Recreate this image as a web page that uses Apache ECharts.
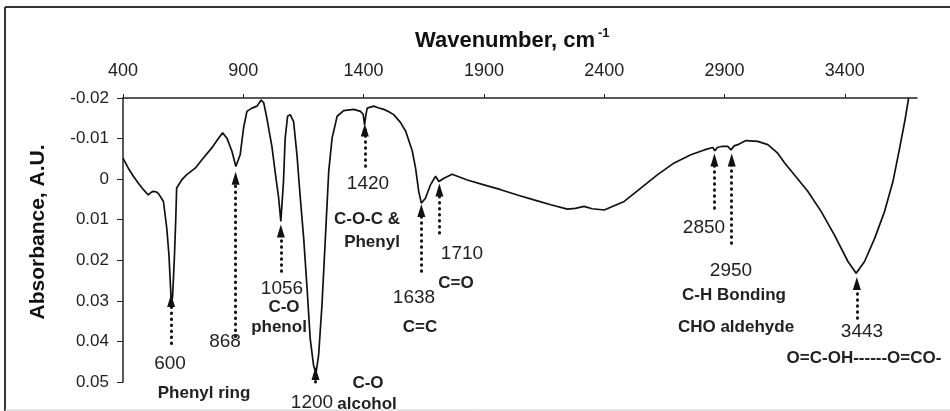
<!DOCTYPE html>
<html>
<head>
<meta charset="utf-8">
<script src="https://cdn.jsdelivr.net/npm/echarts@6/dist/echarts.min.js"></script>
<style>html,body{margin:0;padding:0;background:#fff;}#c{width:950px;height:411px;}</style>
</head>
<body>
<div id="c"></div>
<script>
const wavenumber = [400,422,443,464,485,505,516,526,537,547,568,582,591,597,601,606,610,614,619,623,644,665,700,734,769,797,814,832,853,869,887,901,915,936,957,974,985,998,1019,1033,1047,1056,1067,1074,1084,1095,1109,1123,1137,1151,1165,1178,1192,1202,1213,1227,1241,1255,1269,1290,1317,1359,1387,1398,1404,1410,1415,1442,1460,1484,1505,1525,1553,1575,1602,1616,1629,1640,1657,1678,1699,1713,1734,1768,1831,1900,1970,2039,2108,2178,2247,2280,2316,2350,2400,2483,2552,2622,2691,2760,2816,2851,2860,2870,2892,2913,2927,2940,2955,2989,3038,3080,3121,3150,3190,3246,3302,3357,3413,3447,3482,3524,3565,3600,3628,3649,3663,3665];
const absorbance = [-0.0052,-0.0027,-0.0007,0.0010,0.0026,0.0039,0.0033,0.0030,0.0031,0.0035,0.0055,0.0121,0.0187,0.0260,0.0306,0.0290,0.0240,0.0187,0.0104,0.0022,0.0002,-0.0011,-0.0027,-0.0052,-0.0077,-0.0101,-0.0114,-0.0101,-0.0068,-0.0031,-0.0060,-0.0126,-0.0167,-0.0175,-0.0180,-0.0195,-0.0188,-0.0150,-0.0080,-0.0015,0.0047,0.0104,0.0006,-0.0101,-0.0155,-0.0159,-0.0142,-0.0060,0.0047,0.0146,0.0269,0.0393,0.0459,0.0479,0.0434,0.0310,0.0146,-0.0019,-0.0101,-0.0155,-0.0169,-0.0172,-0.0167,-0.0160,-0.0134,-0.0160,-0.0175,-0.0180,-0.0176,-0.0172,-0.0166,-0.0159,-0.0140,-0.0118,-0.0070,-0.0027,0.0030,0.0059,0.0047,0.0014,-0.0007,0.0006,-0.0002,-0.0012,0.0002,0.0014,0.0026,0.0039,0.0051,0.0063,0.0074,0.0072,0.0067,0.0073,0.0076,0.0055,0.0022,-0.0011,-0.0040,-0.0060,-0.0072,-0.0078,-0.0070,-0.0078,-0.0081,-0.0081,-0.0072,-0.0082,-0.0085,-0.0095,-0.0093,-0.0085,-0.0064,-0.0040,-0.0011,0.0030,0.0080,0.0138,0.0203,0.0232,0.0203,0.0146,0.0080,0.0006,-0.0077,-0.0142,-0.0192,-0.0200];
const xTicks = [400,900,1400,1900,2400,2900,3400];
const yTicks = [-0.02,-0.01,0,0.01,0.02,0.03,0.04,0.05];
const arrowX = [600,868,1056,1200,1405,1640,1715,2858,2930,3450];
const arrowTip = [0.0299,-0.0002,0.0128,0.0479,-0.0121,0.0077,0.0027,-0.0047,-0.0047,0.0257];
const arrowTail = [0.0405,0.0388,0.0227,0.0500,-0.0032,0.0227,0.0133,0.0072,0.0158,0.0343];
const numLabels = ['600','868','1056','1200','1420','1638','1710','2850','2950','3443'];
const groupLabels = ['Phenyl ring','C-O','phenol','C-O','alcohol','C-O-C &','Phenyl','C=C','C=O','C-H Bonding','CHO aldehyde','O=C-OH------O=CO-'];

const chart = echarts.init(document.getElementById('c'));
const F = 'Liberation Sans, Arial, sans-serif';
function num(i, x, y){ return {type:'text', x:x, y:y, z:10, style:{text:numLabels[i], font:'19px '+F, fill:'#222', align:'center', verticalAlign:'middle'}}; }
function bold(i, x, y){ return {type:'text', x:x, y:y, z:10, style:{text:groupLabels[i], font:'bold 17px '+F, fill:'#222', align:'center', verticalAlign:'middle'}}; }

chart.setOption({
  animation:false,
  backgroundColor:'#fff',
  grid:{left:123, right:33, top:98, bottom:29},
  xAxis:{type:'value', position:'top', min:400, max:3700, interval:500,
    axisLine:{onZero:false, lineStyle:{color:'#222', width:1.5}},
    axisTick:{show:true, length:4, lineStyle:{color:'#222'}, customValues:xTicks},
    axisLabel:{customValues:xTicks, color:'#222', fontSize:18, fontFamily:F, margin:18, formatter:v=>String(v)},
    splitLine:{show:false}},
  yAxis:{type:'value', inverse:true, min:-0.02, max:0.05, interval:0.01,
    axisLine:{show:true, onZero:false, lineStyle:{color:'#222', width:1.5}},
    axisTick:{show:true, length:6, lineStyle:{color:'#222'}},
    axisLabel:{color:'#222', fontSize:17, fontFamily:F, margin:14, formatter:v=>String(+v.toFixed(2))},
    splitLine:{show:false}},
  series:[{
    type:'line', showSymbol:false, silent:true,
    data: wavenumber.map((w,i)=>[w, absorbance[i]]),
    lineStyle:{color:'#111', width:1.7},
    markLine:{silent:true, symbol:['none','triangle'], symbolSize:[8,13],
      label:{show:false},
      lineStyle:{color:'#111', width:3, type:[0.5,5.5], cap:'round'},
      emphasis:{disabled:true},
      data: arrowX.map((x,i)=>[{coord:[x, arrowTail[i]]},{coord:[x, arrowTip[i]]}])
    }
  }],
  graphic:[
    {type:'line', shape:{x1:5,y1:7,x2:950,y2:7}, style:{stroke:'#333', lineWidth:2}},
    {type:'line', shape:{x1:5,y1:7,x2:5,y2:411}, style:{stroke:'#333', lineWidth:2}},
    {type:'line', shape:{x1:5,y1:410,x2:950,y2:410}, style:{stroke:'#ccc', lineWidth:1}},
    {type:'text', x:415, y:41, style:{text:'Wavenumber, cm', font:'bold 22px '+F, fill:'#111', align:'left', verticalAlign:'middle'}},
    {type:'text', x:598, y:33, style:{text:'-1', font:'bold 13px '+F, fill:'#111', align:'left', verticalAlign:'middle'}},
    {type:'text', x:38, y:232, rotation:Math.PI/2, style:{text:'Absorbance, A.U.', font:'bold 21px '+F, fill:'#111', align:'center', verticalAlign:'middle'}},
    num(0,170,364), num(1,225,342), num(2,282,289), num(3,312,403), num(4,368,184),
    num(5,414,298), num(6,462,254), num(7,704,228), num(8,731,271), num(9,862,332),
    bold(0,204,393), bold(1,284,307), bold(2,279,327), bold(3,368,383), bold(4,367,404),
    bold(5,367,219), bold(6,372,242), bold(7,420,327), bold(8,456,283),
    bold(9,734,295), bold(10,736,327), bold(11,864,358)
  ]
});
</script>
</body>
</html>
